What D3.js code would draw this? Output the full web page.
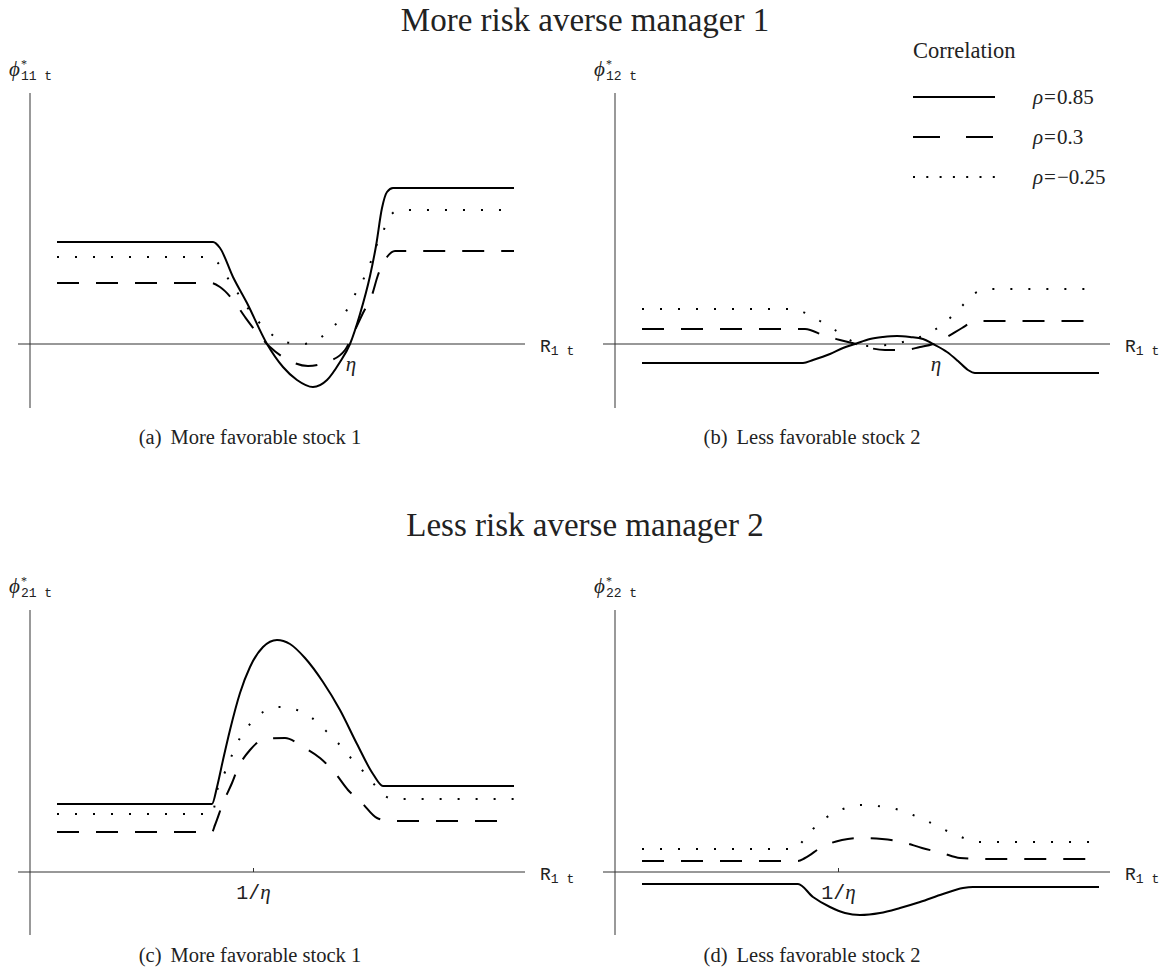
<!DOCTYPE html>
<html>
<head>
<meta charset="utf-8">
<script src="https://cdn.jsdelivr.net/npm/d3@7"></script>
<style>
  body { margin: 0; background: #fff; }
  svg { display: block; }
</style>
</head>
<body>
<script>
// series: [R1t, phi] in plot units (axis origin = 0)
var rhoValues = ['0.85', '0.3', '\u22120.25'];
var dashes = [null, '22,17', '2,16'];
var legendDashes = [null, '27,26', '2,11.3'];

var a_rho085 = [[0.54,1.02],[3.66,1.02],[3.8,0.96],[4.06,0.67],[4.34,0.41],[4.74,0],[5.06,-0.23],[5.34,-0.36],[5.66,-0.43],[5.94,-0.36],[6.2,-0.18],[6.4,0],[6.6,0.3],[6.8,0.68],[6.92,0.98],[7.04,1.36],[7.14,1.52],[7.26,1.56],[9.68,1.56]];
var a_rho03  = [[0.54,0.61],[3.62,0.61],[3.8,0.57],[4.06,0.44],[4.3,0.27],[4.56,0.1],[4.8,-0.03],[5.16,-0.16],[5.56,-0.22],[5.94,-0.18],[6.3,-0.06],[6.5,0.14],[6.66,0.31],[6.84,0.49],[6.96,0.69],[7.14,0.87],[7.3,0.93],[9.68,0.93]];
var a_rhoM025 = [[0.54,0.87],[3.5,0.87],[3.74,0.82],[3.94,0.67],[4.14,0.52],[4.34,0.37],[4.54,0.24],[4.8,0.11],[5.1,0.02],[5.46,0],[5.8,0.06],[6.06,0.17],[6.3,0.31],[6.46,0.46],[6.64,0.62],[6.78,0.77],[6.9,0.95],[7.06,1.12],[7.18,1.27],[7.4,1.34],[9.68,1.34]];

var b_rho085 = [[0.54,-0.19],[3.76,-0.19],[3.96,-0.16],[4.3,-0.1],[4.56,-0.04],[4.8,0],[5.1,0.05],[5.36,0.07],[5.64,0.08],[5.9,0.07],[6.16,0.05],[6.36,0],[6.64,-0.08],[6.86,-0.17],[7.06,-0.26],[7.2,-0.29],[9.68,-0.29]];
var b_rho03  = [[0.54,0.15],[3.7,0.15],[3.8,0.15],[4.2,0.08],[4.5,0.04],[4.82,0],[5.1,-0.04],[5.4,-0.06],[5.8,-0.06],[6.1,-0.03],[6.36,0],[6.64,0.07],[6.94,0.16],[7.16,0.22],[7.4,0.23],[9.68,0.23]];
var b_rhoM025 = [[0.54,0.35],[3.6,0.35],[3.76,0.32],[4.1,0.23],[4.4,0.14],[4.7,0.04],[4.96,-0.02],[5.44,-0.01],[5.76,0.02],[6.1,0.07],[6.42,0.15],[6.7,0.26],[6.96,0.39],[7.2,0.51],[7.5,0.55],[9.68,0.55]];

var c_rho085 = [[0.54,0.68],[3.64,0.68],[3.74,0.85],[3.86,1.12],[4.0,1.42],[4.2,1.79],[4.4,2.05],[4.66,2.25],[4.94,2.32],[5.2,2.28],[5.5,2.14],[5.86,1.9],[6.2,1.62],[6.54,1.28],[6.86,0.98],[7.06,0.86],[7.2,0.86],[9.68,0.86]];
var c_rho03  = [[0.54,0.4],[3.64,0.4],[3.7,0.47],[3.86,0.69],[4.04,0.89],[4.16,1.04],[4.4,1.22],[4.7,1.33],[5.1,1.34],[5.46,1.25],[5.8,1.14],[6.1,0.99],[6.36,0.82],[6.64,0.69],[6.94,0.54],[7.2,0.51],[9.68,0.51]];
var c_rhoM025 = [[0.54,0.58],[3.64,0.58],[3.76,0.85],[3.9,1.0],[4.04,1.17],[4.2,1.34],[4.4,1.48],[4.66,1.6],[4.98,1.65],[5.34,1.62],[5.64,1.54],[5.9,1.42],[6.16,1.29],[6.4,1.15],[6.64,1.02],[6.86,0.89],[7.1,0.76],[7.3,0.73],[9.68,0.73]];

var d_rho085 = [[0.54,-0.12],[3.66,-0.12],[3.96,-0.25],[4.3,-0.35],[4.6,-0.41],[4.9,-0.43],[5.3,-0.41],[5.7,-0.36],[6.1,-0.3],[6.56,-0.22],[6.96,-0.16],[7.16,-0.15],[9.68,-0.15]];
var d_rho03  = [[0.54,0.11],[3.66,0.11],[3.8,0.14],[4.14,0.25],[4.54,0.32],[4.94,0.34],[5.34,0.33],[5.74,0.3],[6.14,0.24],[6.54,0.19],[6.9,0.14],[7.34,0.13],[9.68,0.13]];
var d_rhoM025 = [[0.54,0.23],[3.6,0.23],[3.74,0.3],[3.96,0.43],[4.24,0.55],[4.56,0.63],[4.9,0.67],[5.26,0.66],[5.62,0.63],[5.96,0.57],[6.28,0.5],[6.6,0.42],[6.92,0.35],[7.26,0.3],[9.68,0.3]];

var eta = 6.4, invEta = 4.47;

var panels = [
  {ox: 30,  oy: 344, top: 93,  bottom: 408, ydom: [-0.64, 2.51], sub: '11', cap: '(a)', capText: 'More favorable stock 1', capX: 250, capY: 444, series: [a_rho085, a_rho03, a_rhoM025], mark: 'eta'},
  {ox: 615, oy: 344, top: 93,  bottom: 408, ydom: [-0.64, 2.51], sub: '12', cap: '(b)', capText: 'Less favorable stock 2', capX: 812, capY: 444, series: [b_rho085, b_rho03, b_rhoM025], mark: 'eta'},
  {ox: 30,  oy: 872, top: 610, bottom: 935, ydom: [-0.63, 2.62], sub: '21', cap: '(c)', capText: 'More favorable stock 1', capX: 250, capY: 962, series: [c_rho085, c_rho03, c_rhoM025], mark: 'inv'},
  {ox: 615, oy: 872, top: 610, bottom: 935, ydom: [-0.63, 2.62], sub: '22', cap: '(d)', capText: 'Less favorable stock 2', capX: 812, capY: 962, series: [d_rho085, d_rho03, d_rhoM025], mark: 'inv'}
];

var serif = '"Liberation Serif", "Times New Roman", serif';
var mono = '"Liberation Mono", "Courier New", monospace';

var svg = d3.select('body').append('svg')
  .attr('width', 1166)
  .attr('height', 971);

svg.append('text')
  .attr('x', 585).attr('y', 31)
  .attr('text-anchor', 'middle')
  .style('font-family', serif).style('font-size', '33px').attr('fill', '#222')
  .text('More risk averse manager 1');

svg.append('text')
  .attr('x', 585).attr('y', 536)
  .attr('text-anchor', 'middle')
  .style('font-family', serif).style('font-size', '33px').attr('fill', '#222')
  .text('Less risk averse manager 2');

panels.forEach(function(p){
  var x = d3.scaleLinear().domain([0, 10]).range([p.ox, p.ox + 500]);
  var y = d3.scaleLinear().domain(p.ydom).range([p.bottom, p.top]);
  var g = svg.append('g');

  // axes
  g.append('line')
    .attr('x1', x(0)).attr('x2', x(0))
    .attr('y1', p.top).attr('y2', p.bottom)
    .attr('stroke', '#555').attr('stroke-width', 1.2);
  g.append('line')
    .attr('x1', x(-0.24)).attr('x2', x(9.9))
    .attr('y1', y(0)).attr('y2', y(0))
    .attr('stroke', '#333').attr('stroke-width', 1.2);

  // R1t label
  var rl = g.append('text')
    .attr('x', x(9.9) + 15).attr('y', y(0) + 8)
    .style('font-family', mono).attr('fill', '#222');
  rl.append('tspan').style('font-size', '18px').text('R');
  rl.append('tspan').style('font-size', '13px').attr('dy', 3).text('1 t');

  // phi label
  var pl = g.append('text')
    .attr('x', p.ox - 21).attr('y', p.top - 17)
    .attr('fill', '#222');
  pl.append('tspan').style('font-family', serif).style('font-style', 'italic').style('font-size', '21px').text('\u03D5');
  pl.append('tspan').style('font-family', serif).style('font-size', '12px').attr('dx', 1).attr('dy', -8).text('*');
  pl.append('tspan').style('font-family', mono).style('font-size', '13px').attr('dx', -6).attr('dy', 12).text(p.sub + ' t');

  var line = d3.line()
    .x(function(d){ return x(d[0]); })
    .y(function(d){ return y(d[1]); })
    .curve(d3.curveMonotoneX);

  g.selectAll('.curve')
    .data(p.series)
    .enter()
    .append('path')
      .classed('curve', 1)
      .attr('d', function(d){ return line(d); })
      .attr('fill', 'none')
      .attr('stroke', '#000')
      .attr('stroke-width', 2)
      .attr('stroke-dasharray', function(d, i){ return dashes[i]; });

  if (p.mark === 'eta') {
    g.append('text')
      .attr('x', x(eta) + 1).attr('y', y(0) + 27)
      .attr('text-anchor', 'middle')
      .style('font-family', serif).style('font-style', 'italic').style('font-size', '21px')
      .attr('fill', '#222')
      .text('\u03B7');
  } else {
    g.append('line')
      .attr('x1', x(invEta)).attr('x2', x(invEta))
      .attr('y1', y(0)).attr('y2', y(0) - 4)
      .attr('stroke', '#333').attr('stroke-width', 1);
    var il = g.append('text')
      .attr('x', x(invEta)).attr('y', y(0) + 27)
      .attr('text-anchor', 'middle')
      .attr('fill', '#222');
    il.append('tspan').style('font-family', mono).style('font-size', '20px').text('1/');
    il.append('tspan').style('font-family', serif).style('font-style', 'italic').style('font-size', '21px').text('\u03B7');
  }

  // caption
  var ct = g.append('text')
    .attr('x', p.capX).attr('y', p.capY)
    .attr('text-anchor', 'middle')
    .style('font-family', serif).style('font-size', '20.5px').attr('fill', '#222');
  ct.append('tspan').text(p.cap);
  ct.append('tspan').attr('dx', 9).text(p.capText);
});

// legend
var lg = svg.append('g');
lg.append('text')
  .attr('x', 913).attr('y', 58)
  .style('font-family', serif).style('font-size', '22.5px').attr('fill', '#222')
  .text('Correlation');

var items = lg.selectAll('.item')
  .data(rhoValues)
  .enter()
  .append('g')
    .classed('item', 1)
    .attr('transform', function(d, i){ return 'translate(0,' + (97 + i * 40) + ')'; });

items.append('line')
  .attr('x1', 913).attr('x2', 995)
  .attr('y1', 0).attr('y2', 0)
  .attr('stroke', '#000').attr('stroke-width', 2)
  .attr('stroke-dasharray', function(d, i){ return legendDashes[i]; });

var lt = items.append('text')
  .attr('x', 1033).attr('y', 7)
  .style('font-family', serif).style('font-size', '21px').attr('fill', '#222');
lt.append('tspan').style('font-style', 'italic').text('\u03C1');
lt.append('tspan').attr('dx', 1).text('=');
lt.append('tspan').attr('dx', 1).text(function(d){ return d; });
</script>
</body>
</html>
